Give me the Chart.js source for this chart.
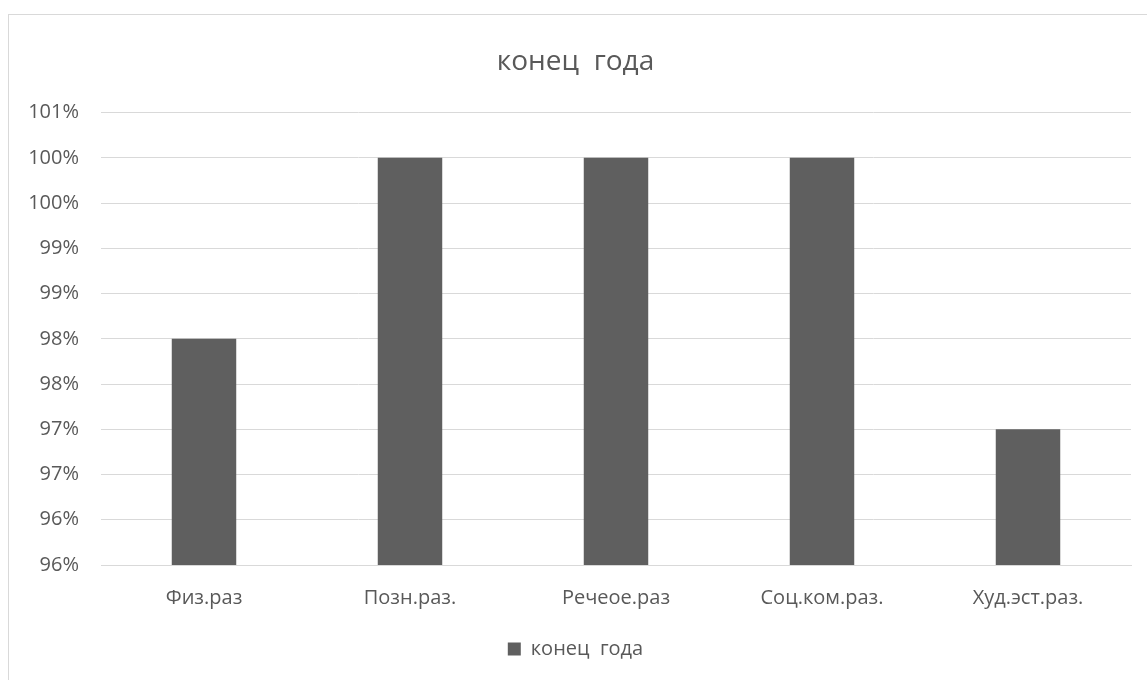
<!DOCTYPE html>
<html>
<head>
<meta charset="utf-8">
<script src="https://cdn.jsdelivr.net/npm/chart.js@4"></script>
<style>
  html, body { margin: 0; padding: 0; background: #fff; }
  body { width: 1147px; height: 680px; position: relative; overflow: hidden; }
  #frame { position: absolute; left: 8px; top: 14px; width: 1200px; height: 700px; border: 1px solid #d9d9d9; box-sizing: border-box; }
  #wrap { position: absolute; left: 0; top: 0; width: 1147px; height: 680px; }
</style>
</head>
<body>
<div id="frame"></div>
<div id="wrap"><canvas id="c" width="1147" height="680"></canvas></div>
<script>
const categories = ['Физ.раз', 'Позн.раз.', 'Речеое.раз', 'Соц.ком.раз.', 'Худ.эст.раз.'];
const seriesName = 'конец  года';
const values = [0.98, 1.00, 1.00, 1.00, 0.97];
const yMin = 0.955, yMax = 1.005, yStep = 0.005;

const FONT = "'Open Sans', 'Noto Sans', sans-serif";
const TXT = '#595959';
const BAR = '#5f5f5f';

new Chart(document.getElementById('c'), {
  type: 'bar',
  data: {
    labels: categories,
    datasets: [{
      label: seriesName,
      data: values,
      backgroundColor: BAR,
      borderWidth: 0,
      categoryPercentage: 1.0,
      barPercentage: 0.313
    }]
  },
  options: {
    responsive: false,
    animation: false,
    devicePixelRatio: 1,
    layout: { padding: { left: 20, right: 16, top: 14, bottom: 11 } },
    plugins: {
      title: {
        display: true,
        text: seriesName,
        color: TXT,
        font: { family: FONT, size: 28, weight: 'normal', lineHeight: 1.2 },
        padding: { top: 31, bottom: 34 }
      },
      legend: {
        position: 'bottom',
        labels: {
          color: TXT,
          font: { family: FONT, size: 20 },
          boxWidth: 13, boxHeight: 13,
          padding: 10
        }
      },
      tooltip: { enabled: false }
    },
    scales: {
      x: {
        grid: { display: false, drawTicks: false },
        border: { display: true, color: '#d9d9d9', width: 1 },
        ticks: { color: TXT, font: { family: FONT, size: 20 }, padding: 21 },
        afterFit: s => { s.height = 64; }
      },
      y: {
        min: yMin, max: yMax,
        grid: { color: '#d9d9d9', drawTicks: false },
        border: { display: false },
        ticks: {
          stepSize: yStep,
          color: TXT,
          font: { family: FONT, size: 20 },
          padding: 22,
          callback: v => Math.round(Math.round(v * 1000) / 10) + '%'
        },
        afterFit: s => { s.width = 81; }
      }
    }
  }
});
</script>
</body>
</html>
